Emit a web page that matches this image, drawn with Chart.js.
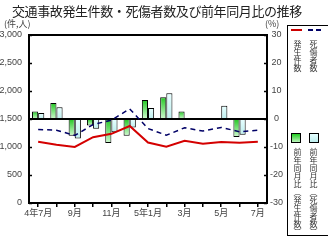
<!DOCTYPE html>
<html>
<head>
<meta charset="utf-8">
<script src="https://cdn.jsdelivr.net/npm/chart.js@4"></script>
<style>
  html, body { margin: 0; padding: 0; background: #fff; }
  #wrap { position: relative; width: 328px; height: 243px; overflow: hidden; font-family: "Noto Sans CJK JP", sans-serif; color: #333; }
  #myChart { position: absolute; left: 0; top: 0; }
  .txt { position: absolute; white-space: nowrap; }
  #title { left: 12px; top: 3px; font-size: 13px; line-height: 16px; color: #222; letter-spacing: -0.4px; }
  .unit { font-size: 9px; line-height: 10px; top: 19px; color: #444; }
  #legend { position: absolute; left: 287px; top: 25px; width: 60px; height: 211px; border: 1px solid #000; box-sizing: border-box; }
  .vt { position: absolute; writing-mode: vertical-rl; font-size: 8px; line-height: 8px; color: #333; }
  .swatch { position: absolute; width: 10px; height: 10px; border: 1px solid #000; box-sizing: border-box; }
</style>
</head>
<body>
<div id="wrap">
  <canvas id="myChart" width="328" height="243"></canvas>
  <div id="title" class="txt">交通事故発生件数・死傷者数及び前年同月比の推移</div>
  <div class="txt unit" style="left:4px;">(件,人)</div>
  <div class="txt unit" style="left:265px;">(%)</div>
  <div id="legend">
    <div style="position:absolute;left:3px;top:3px;width:11px;height:2px;background:#cc0000;"></div>
    <div style="position:absolute;left:20px;top:3px;width:5px;height:2px;background:#000066;"></div>
    <div style="position:absolute;left:28px;top:3px;width:5px;height:2px;background:#000066;"></div>
    <div class="vt" style="left:5px;top:14px;">発生件数</div>
    <div class="vt" style="left:21px;top:14px;">死傷者数</div>
    <div class="swatch" style="left:3px;top:107px;background:linear-gradient(#22cc22,#bbf5bb);"></div>
    <div class="swatch" style="left:21px;top:107px;background:linear-gradient(#e6ffff,#bdeeee);"></div>
    <div class="vt" style="left:5px;top:122px;">前年同月比（発生件数）</div>
    <div class="vt" style="left:21px;top:122px;">前年同月比（死傷者数）</div>
  </div>
</div>
<script>
const categories = ["4年7月", "8月", "9月", "10月", "11月", "12月", "5年1月", "2月", "3月", "4月", "5月", "6月", "7月"]
const accidents = [1095, 1040, 1000, 1175, 1235, 1375, 1080, 1005, 1110, 1060, 1090, 1075, 1095]
const casualties = [1314, 1300, 1207, 1400, 1480, 1681, 1330, 1210, 1344, 1284, 1350, 1272, 1300]
const accidentsYoY = [2.7, 5.7, -6.0, -2.3, -8.6, -6.0, 6.8, 7.8, 2.7, -0.3, 0.3, -6.4, null]
const casualtiesYoY = [2.1, 4.2, -7.0, -3.5, -4.7, -3.0, 3.9, 9.2, 0, -0.3, 4.7, -5.6, null]
const leftTicks = [0, 500, 1000, 1500, 2000, 2500, 3000]
const rightTicks = [-30, -20, -10, 0, 10, 20, 30]

const tickFont = { family: "'Liberation Sans', 'Noto Sans CJK JP', sans-serif", size: 9 }

// vertical gradient over each bar, from its top edge to its bottom edge
function barFill(top, bottom) {
  return (context) => {
    const chart = context.chart
    const y1 = chart.scales.y1
    const v = context.raw
    if (!y1 || v == null) return top
    const a = y1.getPixelForValue(v)
    const b = y1.getPixelForValue(0)
    if (!isFinite(a) || !isFinite(b) || Math.abs(a - b) < 1) return top
    const g = chart.ctx.createLinearGradient(0, Math.min(a, b), 0, Math.max(a, b))
    g.addColorStop(0, top)
    g.addColorStop(1, bottom)
    return g
  }
}

const frame = {
  id: "frame",
  beforeDatasetsDraw(chart) {
    const { ctx, chartArea: a, scales } = chart
    const z = scales.y1.getPixelForValue(0)
    ctx.save()
    ctx.strokeStyle = "#000"
    ctx.lineWidth = 2
    ctx.beginPath()
    ctx.moveTo(a.left, z)
    ctx.lineTo(a.right, z)
    ctx.stroke()
    ctx.restore()
  },
  afterDatasetsDraw(chart) {
    const { ctx, chartArea: a, scales } = chart
    ctx.save()
    ctx.strokeStyle = "#000"
    ctx.lineWidth = 1.5
    leftTicks.forEach((v) => {
      const py = Math.round(scales.y.getPixelForValue(v)) + 0.5
      ctx.beginPath()
      ctx.moveTo(a.left, py)
      ctx.lineTo(a.left + 3, py)
      ctx.stroke()
    })
    rightTicks.forEach((v) => {
      const py = Math.round(scales.y1.getPixelForValue(v)) + 0.5
      ctx.beginPath()
      ctx.moveTo(a.right, py)
      ctx.lineTo(a.right - 3, py)
      ctx.stroke()
    })
    ctx.lineWidth = 2
    ctx.strokeRect(a.left, a.top, a.right - a.left, a.bottom - a.top)
    ctx.restore()
  },
}

const ctx = document.getElementById("myChart")
const data = {
  labels: categories,
  datasets: [
    {
      type: "line",
      label: "発生件数",
      data: accidents,
      yAxisID: "y",
      borderColor: "#d40000",
      borderWidth: 2,
      pointRadius: 0,
      tension: 0,
      order: 0,
    },
    {
      type: "line",
      label: "死傷者数",
      data: casualties,
      yAxisID: "y",
      borderColor: "#000066",
      borderWidth: 1.5,
      borderDash: [5, 4],
      pointRadius: 0,
      tension: 0,
      order: 0,
    },
    {
      label: "前年同月比（発生件数）",
      data: accidentsYoY,
      yAxisID: "y1",
      backgroundColor: barFill("#22c822", "#d0fad0"),
      borderColor: "#000",
      borderWidth: 1,
      borderSkipped: false,
      categoryPercentage: 0.67,
      barPercentage: 1,
      order: 1,
    },
    {
      label: "前年同月比（死傷者数）",
      data: casualtiesYoY,
      yAxisID: "y1",
      backgroundColor: barFill("#e8ffff", "#bdeeee"),
      borderColor: "#000",
      borderWidth: 1,
      borderSkipped: false,
      categoryPercentage: 0.67,
      barPercentage: 1,
      order: 1,
    },
  ],
}

const config = {
  type: "bar",
  data: data,
  plugins: [frame],
  options: {
    responsive: false,
    animation: false,
    layout: { padding: { top: 35, right: 41, left: 0, bottom: 0 } },
    plugins: {
      legend: { display: false },
      tooltip: { enabled: false },
    },
    scales: {
      x: {
        offset: true,
        afterFit: (s) => { s.height = 40 },
        grid: { offset: false, drawOnChartArea: false, color: "#000", tickLength: 4, lineWidth: 1.5 },
        border: { display: false },
        ticks: {
          autoSkip: false,
          maxRotation: 0,
          padding: 1,
          color: "#444",
          font: tickFont,
          callback: (v, i) => (i % 2 === 0 ? categories[i] : ""),
        },
      },
      y: {
        position: "left",
        min: 0,
        max: 3000,
        afterFit: (s) => { s.width = 29 },
        afterBuildTicks: (s) => { s.ticks = leftTicks.map((v) => ({ value: v })) },
        grid: { display: false, drawTicks: false },
        border: { display: false },
        ticks: { padding: 7, color: "#444", font: tickFont },
      },
      y1: {
        position: "right",
        min: -30,
        max: 30,
        afterFit: (s) => { s.width = 20 },
        afterBuildTicks: (s) => { s.ticks = rightTicks.map((v) => ({ value: v })) },
        grid: { display: false, drawTicks: false },
        border: { display: false },
        ticks: { padding: 3, crossAlign: "center", color: "#444", font: tickFont },
      },
    },
  },
}

new Chart(ctx, config)
</script>
</body>
</html>
